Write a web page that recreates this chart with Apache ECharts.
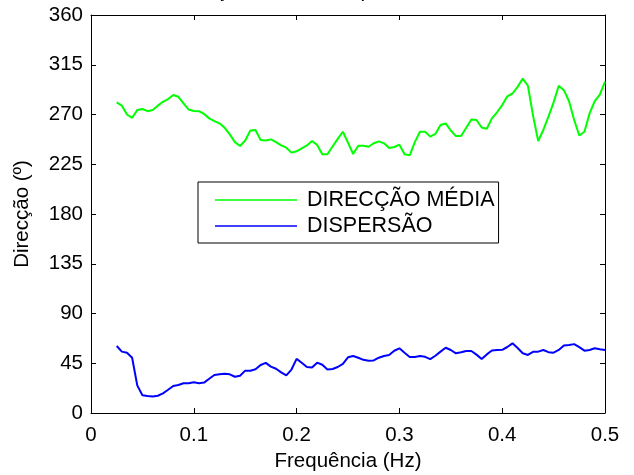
<!DOCTYPE html>
<html>
<head>
<meta charset="utf-8">
<title>Direcção média e dispersão</title>
<script src="https://cdn.jsdelivr.net/npm/echarts@6/dist/echarts.min.js"></script>
<style>
  html, body { margin: 0; padding: 0; background: #fff; }
  #box { width: 634px; height: 475px; }
</style>
</head>
<body>
<div id="box"></div>
<script>
// frequencias (Hz)
const freq = [
  0.025, 0.030, 0.035, 0.040, 0.045, 0.050, 0.055, 0.060, 0.065, 0.070,
  0.075, 0.080, 0.085, 0.090, 0.095, 0.100, 0.105, 0.110, 0.115, 0.120,
  0.125, 0.130, 0.135, 0.140, 0.145, 0.150, 0.155, 0.160, 0.165, 0.170,
  0.175, 0.180, 0.185, 0.190, 0.195, 0.200, 0.205, 0.210, 0.215, 0.220,
  0.225, 0.230, 0.235, 0.240, 0.245, 0.250, 0.255, 0.260, 0.265, 0.270,
  0.275, 0.280, 0.285, 0.290, 0.295, 0.300, 0.305, 0.310, 0.315, 0.320,
  0.325, 0.330, 0.335, 0.340, 0.345, 0.350, 0.355, 0.360, 0.365, 0.370,
  0.375, 0.380, 0.385, 0.390, 0.395, 0.400, 0.405, 0.410, 0.415, 0.420,
  0.425, 0.430, 0.435, 0.440, 0.445, 0.450, 0.455, 0.460, 0.465, 0.470,
  0.475, 0.480, 0.485, 0.490, 0.495, 0.500
];

// direccao media (graus)
const direccaoMedia = [
  281, 278, 270, 267, 274, 275, 273, 274, 278, 281.5,
  284, 287.6, 286, 280, 274.5, 273.2, 273, 270.5, 266.5, 264,
  262, 258, 252, 245, 241.5, 246.5, 255.5, 256, 247, 246.5,
  247.5, 245, 242, 240, 235.5, 236.7, 239.4, 242, 246, 242.5,
  234, 234, 241, 248, 254.4, 244.5, 234.3, 241.8, 241.8, 240.8,
  244, 245.7, 243.9, 239.7, 240.6, 242.7, 234, 233.1, 245, 254.4,
  254.4, 250, 252.4, 260.5, 262, 255.5, 250.5, 250.5, 258, 265.5,
  265, 258.2, 257.1, 266.5, 272, 278.5, 286.5, 289, 295, 302.5,
  296, 269, 246, 256, 268, 281, 296, 292, 282, 265,
  251, 254.4, 271, 282, 288, 299.7
];

// dispersao (graus)
const dispersao = [
  60.6, 55.5, 54.5, 50, 25, 16, 15.4, 15, 15.6, 17.8,
  21, 24.4, 25.3, 26.9, 26.9, 27.8, 27, 27.5, 31, 34.4,
  35, 35.6, 35, 32.8, 33.7, 38.3, 38.3, 39.5, 43.4, 45.3,
  42, 40, 36.8, 34.1, 39.3, 49, 45.5, 41.6, 41.2, 45.5,
  43.6, 39.4, 39.8, 41.6, 44.5, 50.4, 51.6, 50, 48.1, 47.3,
  47.5, 50, 51.6, 52.5, 56.3, 58.5, 54.5, 50.7, 50.7, 51.6,
  50.8, 48.8, 51.8, 55.5, 59, 57, 54, 54.9, 56, 56.1,
  52.8, 48.8, 53, 56.5, 57, 57.2, 59.7, 63, 58.8, 54,
  52.5, 55.3, 55.5, 57, 55, 54.6, 57, 61, 61.5, 62.3,
  59.6, 56.4, 57, 58.5, 57.6, 57
];

const FONT = "'Liberation Sans', Arial, sans-serif";

const myChart = echarts.init(document.getElementById("box"));

// moldura tipo matlab: eixos nos 4 lados, ticks para dentro
const frameAxis = {
  axisLine: { show: true, onZero: false, lineStyle: { color: "#000", width: 1 } },
  axisTick: { show: true, inside: true, length: 5, lineStyle: { color: "#000" } },
  splitLine: { show: false }
};

const option = {
  animation: false,
  backgroundColor: "#fff",
  title: {
    text: "Direcção média e dispersão direccional",
    left: 348,
    textAlign: "center",
    top: -19,
    padding: 0,
    textStyle: { fontFamily: FONT, fontSize: 20.5, fontWeight: "normal", color: "#000" }
  },
  grid: { left: 91, right: 29, top: 15, bottom: 62, outerBoundsMode: "none" },
  legend: {
    orient: "vertical",
    left: 198,
    top: 182,
    padding: [7, 4, 6, 17],
    icon: "rect",
    itemWidth: 82,
    itemHeight: 1.5,
    itemGap: 4,
    borderColor: "#000",
    borderWidth: 1,
    borderRadius: 0,
    backgroundColor: "#fff",
    textStyle: { fontFamily: FONT, fontSize: 21.5, color: "#000", padding: [0, 0, 0, 5] },
    data: ["DIRECÇÃO MÉDIA", "DISPERSÃO"]
  },
  xAxis: [
    Object.assign({
      type: "value",
      min: 0,
      max: 0.5,
      interval: 0.1,
      position: "bottom",
      name: "Frequência (Hz)",
      nameLocation: "middle",
      nameGap: 37,
      nameTextStyle: { fontFamily: FONT, fontSize: 20.5, color: "#000" },
      axisLabel: { fontFamily: FONT, fontSize: 20.5, color: "#000", margin: 12 }
    }, frameAxis),
    Object.assign({
      type: "value",
      min: 0,
      max: 0.5,
      interval: 0.1,
      position: "top",
      axisLabel: { show: false }
    }, frameAxis)
  ],
  yAxis: [
    Object.assign({
      type: "value",
      min: 0,
      max: 360,
      interval: 45,
      position: "left",
      name: "Direcção (º)",
      nameLocation: "middle",
      nameGap: 58,
      nameTextStyle: { fontFamily: FONT, fontSize: 20.5, color: "#000" },
      axisLabel: { fontFamily: FONT, fontSize: 20.5, color: "#000", margin: 8 }
    }, frameAxis),
    Object.assign({
      type: "value",
      min: 0,
      max: 360,
      interval: 45,
      position: "right",
      axisLabel: { show: false }
    }, frameAxis)
  ],
  series: [
    {
      name: "DIRECÇÃO MÉDIA",
      type: "line",
      symbol: "none",
      color: "#00ff00",
      lineStyle: { color: "#00ff00", width: 2 },
      data: freq.map((f, i) => [f, direccaoMedia[i]])
    },
    {
      name: "DISPERSÃO",
      type: "line",
      symbol: "none",
      color: "#0000ff",
      lineStyle: { color: "#0000ff", width: 2 },
      data: freq.map((f, i) => [f, dispersao[i]])
    }
  ]
};

myChart.setOption(option);
</script>
</body>
</html>
